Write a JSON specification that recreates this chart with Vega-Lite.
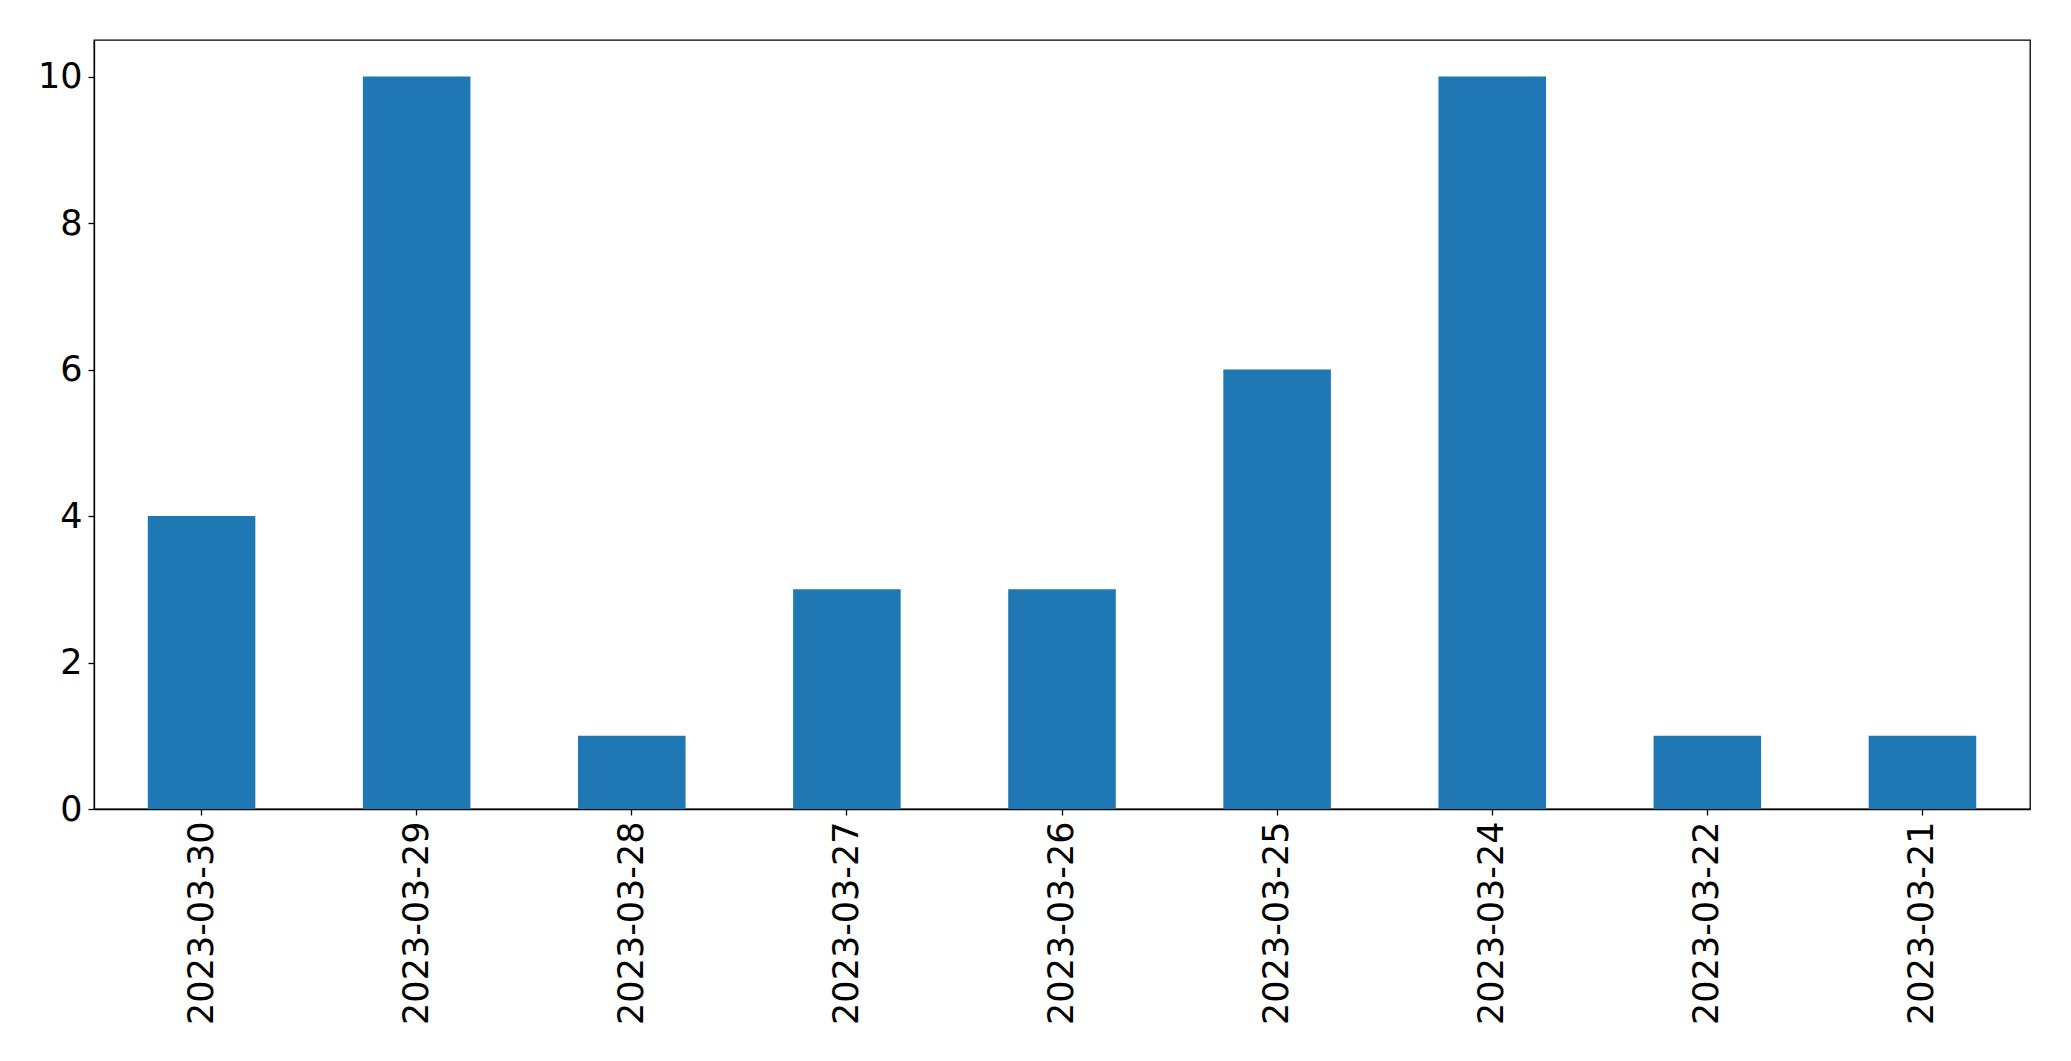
{
  "$schema": "https://vega.github.io/schema/vega-lite/v6.json",
  "width": 1936,
  "height": 769,
  "autosize": {"type": "none"},
  "padding": {"left": 94, "top": 40, "right": 41, "bottom": 252},
  "background": "white",
  "data": {
    "values": [
      {"date": "2023-03-30", "count": 4},
      {"date": "2023-03-29", "count": 10},
      {"date": "2023-03-28", "count": 1},
      {"date": "2023-03-27", "count": 3},
      {"date": "2023-03-26", "count": 3},
      {"date": "2023-03-25", "count": 6},
      {"date": "2023-03-24", "count": 10},
      {"date": "2023-03-22", "count": 1},
      {"date": "2023-03-21", "count": 1}
    ]
  },
  "config": {
    "view": {"stroke": "black", "strokeWidth": 1.3},
    "axis": {
      "labelFont": "DejaVu Sans",
      "labelFontSize": 35,
      "labelColor": "black",
      "labelLimit": 0,
      "domainColor": "black",
      "tickColor": "black",
      "tickSize": 6,
      "tickWidth": 1.3,
      "domainWidth": 1.3,
      "grid": false,
      "title": null
    }
  },
  "mark": {"type": "bar", "color": "#1f77b4"},
  "encoding": {
    "x": {
      "field": "date",
      "type": "nominal",
      "sort": null,
      "scale": {"paddingInner": 0.5, "paddingOuter": 0.25},
      "axis": {"labelAngle": -90, "labelPadding": 6}
    },
    "y": {
      "field": "count",
      "type": "quantitative",
      "scale": {"domain": [0, 10.5], "nice": false},
      "axis": {"values": [0, 2, 4, 6, 8, 10], "labelPadding": 6}
    }
  }
}
